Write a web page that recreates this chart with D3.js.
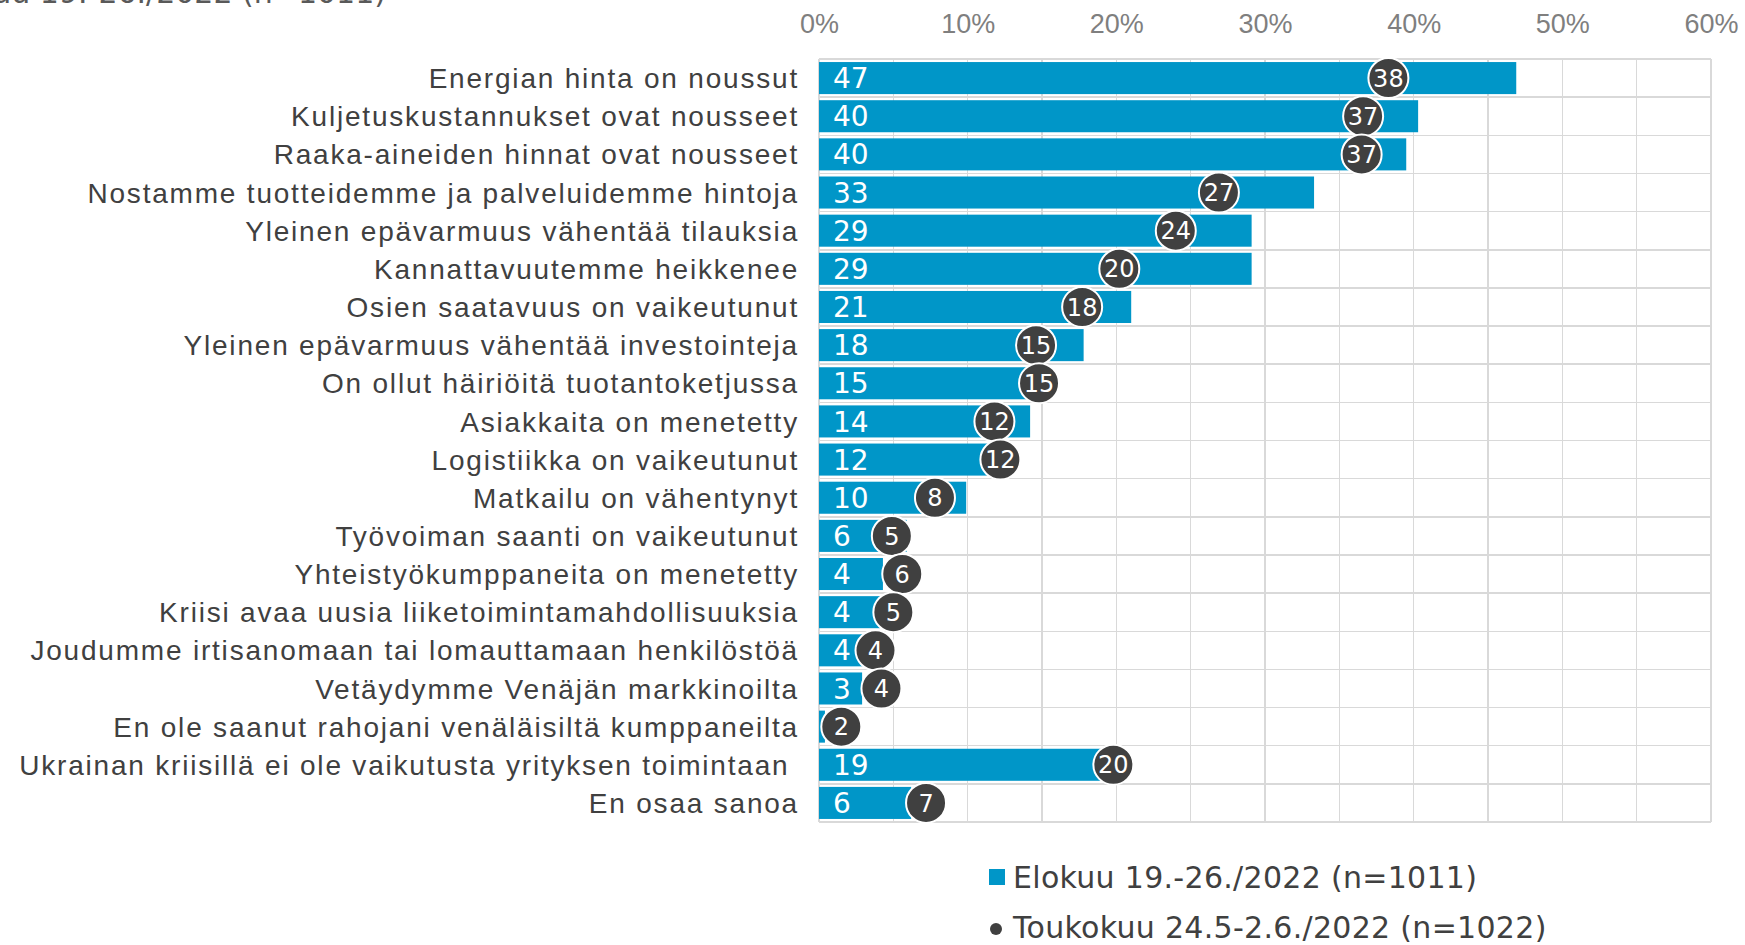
<!DOCTYPE html>
<html>
<head>
<meta charset="utf-8">
<style>
body{
  margin: 0;
  background-color: white;
}
svg{
  display: block;
  font-family: "DejaVu Sans", Verdana, sans-serif;
}
.x-axis path, .y-axis path { display: none; }
.x-axis text { fill: #7f7f7f; font-size: 27px; }
.y-axis text { fill: #404040; font-size: 28px; letter-spacing: 1.8px; white-space: pre; }
.grid line { stroke: #d9d9d9; stroke-width: 1.5px; shape-rendering: crispEdges; }
.bar-label { fill: white; font-size: 28px; }
.dot-label { fill: white; font-size: 24px; }
.legend text { fill: #404040; font-size: 30px; letter-spacing: 0.3px; }
</style>
</head>
<body>
<script src="https://cdn.jsdelivr.net/npm/d3@7/dist/d3.min.js"></script>
<script>
  var WIDTH = 1745;
  var HEIGHT = 945;

  var categories = [
    "Energian hinta on noussut",
    "Kuljetuskustannukset ovat nousseet",
    "Raaka-aineiden hinnat ovat nousseet",
    "Nostamme tuotteidemme ja palveluidemme hintoja",
    "Yleinen epävarmuus vähentää tilauksia",
    "Kannattavuutemme heikkenee",
    "Osien saatavuus on vaikeutunut",
    "Yleinen epävarmuus vähentää investointeja",
    "On ollut häiriöitä tuotantoketjussa",
    "Asiakkaita on menetetty",
    "Logistiikka on vaikeutunut",
    "Matkailu on vähentynyt",
    "Työvoiman saanti on vaikeutunut",
    "Yhteistyökumppaneita on menetetty",
    "Kriisi avaa uusia liiketoimintamahdollisuuksia",
    "Joudumme irtisanomaan tai lomauttamaan henkilöstöä",
    "Vetäydymme Venäjän markkinoilta",
    "En ole saanut rahojani venäläisiltä kumppaneilta",
    "Ukrainan kriisillä ei ole vaikutusta yrityksen toimintaan ",
    "En osaa sanoa"
  ];

  // Elokuu 19.-26./2022 (bars)
  var elokuu = [46.9, 40.3, 39.5, 33.3, 29.1, 29.1, 21.0, 17.8, 15.1, 14.2,
                12.3, 9.9, 5.9, 4.3, 4.1, 3.9, 2.9, 0.4, 19.0, 6.2];
  // Toukokuu 24.5-2.6./2022 (dots)
  var toukokuu = [38.3, 36.6, 36.5, 26.9, 24.0, 20.2, 17.7, 14.6, 14.8, 11.8,
                  12.2, 7.8, 4.9, 5.6, 5.0, 3.8, 4.2, 1.5, 19.8, 7.2];

  var xTicks = [0, 10, 20, 30, 40, 50, 60];
  var gridTicks = d3.range(0, 61, 5);
  var legendLabels = ["Elokuu 19.-26./2022 (n=1011)", "Toukokuu 24.5-2.6./2022 (n=1022)"];
  var titleText = "Elokuu 19.-26./2022 (n=1011)";

  var BAR_COLOR = "#0096c8";
  var DOT_COLOR = "#404040";

  var xScale = d3.scaleLinear()
    .domain([0, 60])
    .range([819, 1711]);

  var yScale = d3.scaleBand()
    .domain(categories)
    .range([59, 822])
    .paddingInner(0.16)
    .paddingOuter(0.08);

  var bandStep = yScale.step();
  var bandTop = yScale.range()[0];

  var svg = d3.select("body").append("svg")
    .attr("width", WIDTH)
    .attr("height", HEIGHT);

  // title, cut off by the top edge
  svg.append("text")
    .attr("x", 386).attr("y", 3)
    .attr("text-anchor", "end")
    .style("font-size", "30px")
    .style("fill", "#595959")
    .text(titleText);

  // grid
  var grid = svg.append("g").attr("class", "grid");
  grid.selectAll("line.v")
    .data(gridTicks)
    .enter().append("line")
      .attr("class", "v")
      .attr("x1", d => xScale(d)).attr("x2", d => xScale(d))
      .attr("y1", bandTop).attr("y2", bandTop + bandStep * categories.length);
  grid.selectAll("line.h")
    .data(d3.range(categories.length + 1))
    .enter().append("line")
      .attr("class", "h")
      .attr("x1", xScale(0)).attr("x2", xScale(60))
      .attr("y1", i => bandTop + i * bandStep).attr("y2", i => bandTop + i * bandStep);

  // axes
  svg.append("g")
    .attr("class", "x-axis")
    .attr("transform", "translate(0,33)")
    .call(d3.axisTop(xScale).tickValues(xTicks).tickSize(0).tickPadding(0)
      .tickFormat(d => d + "%"))
    .selectAll("text").attr("dy", 0);

  svg.append("g")
    .attr("class", "y-axis")
    .attr("transform", `translate(${xScale(0)},0)`)
    .call(d3.axisLeft(yScale).tickSize(0).tickPadding(20))
    .selectAll("text").attr("dy", "0.36em");

  // bars
  var plotArea = svg.append("g").attr("class", "plotArea");
  plotArea.selectAll("rect.bar")
    .data(elokuu)
    .enter().append("rect")
      .attr("class", "bar")
      .attr("x", xScale(0))
      .attr("y", (d, i) => yScale(categories[i]))
      .attr("width", d => xScale(d) - xScale(0))
      .attr("height", yScale.bandwidth())
      .attr("fill", BAR_COLOR);

  // labels that round to 0 sit under the dot and are not shown
  plotArea.selectAll("text.bar-label")
    .data(elokuu.map((d, i) => [d, i]).filter(p => Math.round(p[0]) > 0))
    .enter().append("text")
      .attr("class", "bar-label")
      .attr("x", xScale(0) + 14)
      .attr("y", p => yScale(categories[p[1]]) + yScale.bandwidth() / 2)
      .attr("dy", "0.36em")
      .text(p => Math.round(p[0]));

  // dots
  plotArea.selectAll("circle.dot")
    .data(toukokuu)
    .enter().append("circle")
      .attr("class", "dot")
      .attr("cx", d => xScale(d))
      .attr("cy", (d, i) => yScale(categories[i]) + yScale.bandwidth() / 2)
      .attr("r", 20)
      .attr("fill", DOT_COLOR)
      .attr("stroke", "white")
      .attr("stroke-width", 2);

  plotArea.selectAll("text.dot-label")
    .data(toukokuu)
    .enter().append("text")
      .attr("class", "dot-label")
      .attr("x", d => xScale(d))
      .attr("y", (d, i) => yScale(categories[i]) + yScale.bandwidth() / 2)
      .attr("dy", "0.36em")
      .attr("text-anchor", "middle")
      .text(d => Math.round(d));

  // legend
  var legend = svg.append("g").attr("class", "legend");
  legend.append("rect")
    .attr("x", 989).attr("y", 869)
    .attr("width", 16).attr("height", 16)
    .attr("fill", BAR_COLOR);
  legend.append("circle")
    .attr("cx", 996).attr("cy", 929)
    .attr("r", 6)
    .attr("fill", DOT_COLOR);
  legend.selectAll("text")
    .data(legendLabels)
    .enter().append("text")
      .attr("x", 1013)
      .attr("y", (d, i) => 877 + i * 50)
      .attr("dy", "0.36em")
      .text(d => d);
</script>
</body>
</html>
